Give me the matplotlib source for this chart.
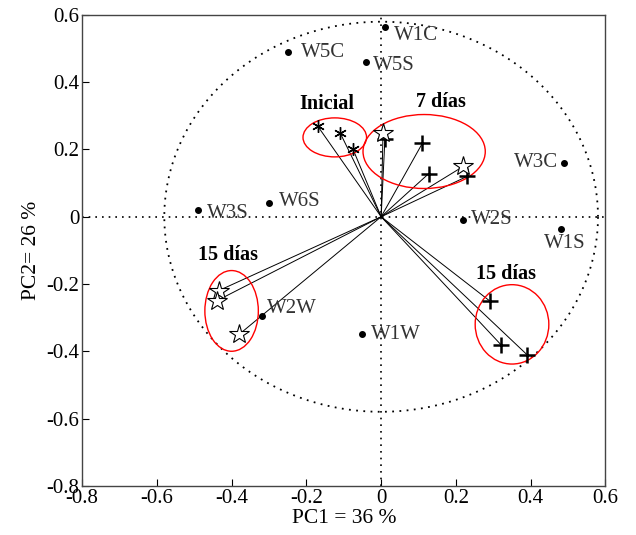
import numpy as np
import matplotlib
matplotlib.use("Agg")
import matplotlib.pyplot as plt
from matplotlib.patches import Ellipse

plt.rcParams['font.family'] = ['Liberation Serif', 'DejaVu Serif']

# Sample scores (dots with labels)
sample_names = ["W1C", "W5C", "W5S", "W3C", "W1S", "W2S", "W3S", "W6S", "W2W", "W1W"]
sample_x = [0.01, -0.25, -0.04, 0.49, 0.48, 0.22, -0.49, -0.30, -0.32, -0.05]
sample_y = [0.565, 0.49, 0.46, 0.16, -0.035, -0.01, 0.02, 0.04, -0.295, -0.35]
# label offsets in pixels and alignment
label_dx = [9, 13, 7, -6, 4, 8, 9, 10, 5, 9]
label_dy = [-9, -1, -3, 0, -15, 1, -3, 2, 7, 0]
label_ha = ["left", "left", "left", "right", "center", "left", "left", "left", "left", "left"]

# Loadings (vectors from origin)
inicial_x = [-0.17, -0.11, -0.075]
inicial_y = [0.27, 0.25, 0.20]

d7_star_x = [0.005, 0.22]
d7_star_y = [0.25, 0.15]
d7_plus_x = [0.01, 0.11, 0.127, 0.23]
d7_plus_y = [0.23, 0.218, 0.128, 0.12]

d15_plus_x = [0.29, 0.32, 0.39]
d15_plus_y = [-0.25, -0.38, -0.41]

d15_star_x = [-0.435, -0.44, -0.38]
d15_star_y = [-0.22, -0.25, -0.35]

# Group ellipses: (cx, cy, w, h)
ell_cx = [-0.124, 0.115, -0.40, 0.35]
ell_cy = [0.236, 0.194, -0.28, -0.32]
ell_w = [0.17, 0.327, 0.143, 0.197]
ell_h = [0.116, 0.22, 0.24, 0.236]

group_labels = ["Inicial", "7 días", "15 días", "15 días"]
group_lx = [-0.145, 0.16, -0.41, 0.335]
group_ly = [0.335, 0.34, -0.115, -0.17]

circle_r = 0.58

fig = plt.figure(figsize=(6.36, 5.35), dpi=100)
ax = fig.add_axes([0.129, 0.092, 0.823, 0.880])
ax.set_xlim(-0.8, 0.6)
ax.set_ylim(-0.8, 0.6)

# dotted reference lines and circle
ax.axhline(0, color='black', linestyle=(0, (1, 3)), linewidth=1.2, zorder=1)
ax.axvline(0, color='black', linestyle=(0, (1, 3)), linewidth=1.2, zorder=1)
t = np.linspace(0, 2 * np.pi, 400)
ax.plot(circle_r * np.cos(t), circle_r * np.sin(t), color='black',
        linestyle=(0, (1, 3)), linewidth=1.3, zorder=1)

# vectors
def vectors(xs, ys):
    for x, y in zip(xs, ys):
        ax.plot([0, x], [0, y], color='black', linewidth=0.7, zorder=2)

for xs, ys in [(inicial_x, inicial_y), (d7_star_x, d7_star_y), (d7_plus_x, d7_plus_y),
               (d15_plus_x, d15_plus_y), (d15_star_x, d15_star_y)]:
    vectors(xs, ys)

ax.plot(inicial_x, inicial_y, linestyle='none', marker=(6, 2, 0), markersize=9,
        color='black', markeredgewidth=1.0, zorder=3)
ax.plot(d7_plus_x, d7_plus_y, linestyle='none', marker='+', markersize=11,
        color='black', markeredgewidth=1.8, zorder=3)
ax.plot(d15_plus_x, d15_plus_y, linestyle='none', marker='+', markersize=11,
        color='black', markeredgewidth=1.8, zorder=3)
ax.plot(d7_star_x, d7_star_y, linestyle='none', marker='*', markersize=15,
        markerfacecolor='white', markeredgecolor='black', markeredgewidth=0.8, zorder=4)
ax.plot(d15_star_x, d15_star_y, linestyle='none', marker='*', markersize=15,
        markerfacecolor='white', markeredgecolor='black', markeredgewidth=0.8, zorder=4)

# sample dots
ax.plot(sample_x, sample_y, linestyle='none', marker='o', markersize=4,
        color='black', zorder=3)
for n, x, y, dx, dy, ha in zip(sample_names, sample_x, sample_y, label_dx, label_dy, label_ha):
    ax.annotate(n, (x, y), xytext=(dx, dy), textcoords='offset pixels',
                ha=ha, va='center', fontsize=15, color='#333333', zorder=5)

# ellipses
for cx, cy, w, h in zip(ell_cx, ell_cy, ell_w, ell_h):
    ax.add_patch(Ellipse((cx, cy), w, h, fill=False, edgecolor='red',
                         linewidth=1.0, zorder=2))

for lab, x, y in zip(group_labels, group_lx, group_ly):
    ax.text(x, y, lab, ha='center', va='center', fontsize=14.5,
            fontweight='bold', zorder=5)

ticks = [-0.8, -0.6, -0.4, -0.2, 0, 0.2, 0.4, 0.6]
tick_labels = ["-0.8", "-0.6", "-0.4", "-0.2", "0", "0.2", "0.4", "0.6"]
ax.set_xticks(ticks)
ax.set_yticks(ticks)
ax.set_xticklabels(tick_labels)
ax.set_yticklabels(tick_labels)
ax.tick_params(direction='in', length=5, labelsize=15, width=0.8, pad=2)
for s in ax.spines.values():
    s.set_linewidth(1.0)
    s.set_color('#444444')

ax.set_xlabel("PC1 = 36 %", fontsize=15.5, labelpad=1)
ax.set_ylabel("PC2= 26 %", fontsize=15.5, labelpad=4)

fig.savefig("out.png", dpi=100)
